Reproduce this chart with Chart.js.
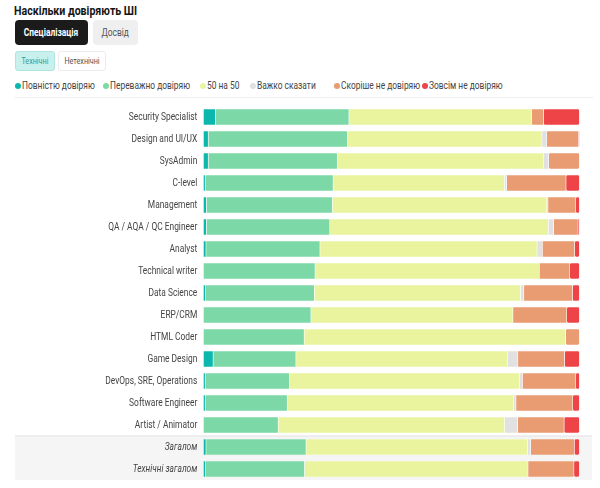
<!DOCTYPE html>
<html>
<head>
<meta charset="utf-8">
<script src="https://cdn.jsdelivr.net/npm/chart.js@4"></script>
<style>
  body { margin: 0; background: #fff; font-family: Roboto, "Noto Sans", sans-serif; color: #222; }
  #wrap { position: relative; width: 600px; height: 488px; overflow: hidden; }
  .nar { display: inline-block; transform: scaleX(0.8); white-space: nowrap; }
  h1 { position: absolute; left: 14px; top: 3px; margin: 0; font-size: 13px; font-weight: 700; color: #151515; }
  h1 .nar { transform: scaleX(0.815); transform-origin: left center; }
  .tab, .sub { position: absolute; text-align: center; box-sizing: border-box; overflow: hidden; }
  .tab .nar, .sub .nar { transform-origin: center center; }
  .tab { top: 20px; height: 25px; line-height: 25px; border-radius: 4px; font-size: 10.5px; }
  .tab.on { left: 15px; width: 73px; background: #1b1b1b; color: #fff; font-weight: 700; }
  .tab.off { left: 93px; width: 45px; background: #efefef; color: #555; }
  .sub { top: 51px; height: 20px; line-height: 18px; border-radius: 3px; font-size: 9px; }
  .sub.on { left: 15px; width: 40px; background: #c8f0ec; border: 1px solid #aee5df; color: #3a9b93; }
  .sub.off { left: 58px; width: 48px; background: #fff; border: 1px solid #ececec; color: #555; }
  .leg { position: absolute; top: 79px; height: 13px; font-size: 10.5px; line-height: 13px; color: #444; white-space: nowrap; }
  .leg i { position: absolute; left: 0; top: 3.5px; width: 6px; height: 6px; border-radius: 50%; }
  .leg .nar { position: absolute; left: 7px; top: 0; transform-origin: left center; }
  #rule { position: absolute; left: 15px; top: 97px; width: 578px; height: 1px; background: #eee; }
  #box { position: absolute; left: 0; top: 100px; width: 600px; height: 388px; }
</style>
</head>
<body>
<div id="wrap">
  <h1><span class="nar">Наскільки довіряють ШІ</span></h1>
  <div class="tab on"><span class="nar">Спеціалізація</span></div>
  <div class="tab off"><span class="nar">Досвід</span></div>
  <div class="sub on"><span class="nar">Технічні</span></div>
  <div class="sub off"><span class="nar">Нетехнічні</span></div>
  <div id="legend"></div>
  <div id="rule"></div>
  <div id="box"><canvas id="grafico"></canvas></div>
</div>
<script>
// Datos (porcentajes)
const categorias = ['Security Specialist', 'Design and UI/UX', 'SysAdmin', 'C-level', 'Management',
  'QA / AQA / QC Engineer', 'Analyst', 'Technical writer', 'Data Science', 'ERP/CRM', 'HTML Coder',
  'Game Design', 'DevOps, SRE, Operations', 'Software Engineer', 'Artist / Animator', 'Загалом', 'Технічні загалом'];

const nombresSeries = ['Повністю довіряю', 'Переважно довіряю', '50 на 50', 'Важко сказати', 'Скоріше не довіряю', 'Зовсім не довіряю'];
const colores = ['#0cb7ae', '#7dd8a8', '#eaf49e', '#e1e1e1', '#e99b71', '#ee4448'];

const povnistyu  = [3.2, 1.3, 1.3, 0.5, 0.8, 0.8, 0.7, 0, 0.6, 0, 0, 2.6, 0.5, 0.5, 0, 0.7, 0.6];
const perevazhno = [35.5, 37.0, 34.3, 34.0, 33.5, 32.8, 30.3, 29.7, 28.9, 28.6, 26.8, 22.0, 22.4, 21.8, 19.9, 26.6, 26.3];
const piftyPifty = [48.6, 51.7, 54.9, 45.5, 57.0, 58.1, 57.7, 59.6, 54.8, 53.7, 69.5, 56.3, 61.2, 60.2, 60.2, 58.9, 59.4];
const vazhko     = [0, 1.3, 1.3, 0.6, 0.3, 1.4, 1.4, 0, 0.9, 0, 0, 2.7, 0.7, 0.6, 3.4, 0.8, 0];
const skorishe   = [3.1, 8.4, 8.2, 15.8, 7.4, 6.5, 8.6, 8.1, 12.9, 14.3, 3.7, 12.4, 14.2, 15.1, 12.4, 11.6, 12.2];
const zovsim     = [9.6, 0.3, 0, 3.6, 1.0, 0.4, 1.3, 2.6, 1.9, 3.4, 0, 4.0, 1.0, 1.8, 4.1, 1.4, 1.5];

const series = [povnistyu, perevazhno, piftyPifty, vazhko, skorishe, zovsim];
const filasResumen = 2; // últimas filas con fondo gris
const estrechar = 0.8;  // el texto original es una fuente condensada

// Leyenda en HTML (posición x de cada punto)
const legendaX = [15, 103, 200, 250, 334, 422];
document.getElementById('legend').innerHTML = nombresSeries
  .map((n, i) => '<div class="leg" style="left:' + legendaX[i] + 'px"><i style="background:' + colores[i] +
    '"></i><span class="nar">' + n + '</span></div>').join('');

// Fondo gris para las filas de resumen + texto condensado de las etiquetas
const fondoResumen = {
  id: 'fondoResumen',
  beforeDraw(chart) {
    const y = chart.scales.y;
    const paso = y.height / categorias.length;
    const top = y.getPixelForValue(categorias.length - filasResumen) - paso / 2;
    const bottom = y.getPixelForValue(categorias.length - 1) + paso / 2;
    const ctx = chart.ctx;
    ctx.save();
    ctx.fillStyle = '#f5f5f5';
    ctx.fillRect(15, top, 577, bottom - top);
    ctx.fillStyle = '#e2e2e2';
    ctx.fillRect(15, top - 0.5, 577, 1);
    ctx.restore();
    // las etiquetas del eje se dibujan justo después: estrecharlas en horizontal
    const ax = y.right - y.options.ticks.padding;
    ctx.save();
    ctx.translate(ax, 0);
    ctx.scale(estrechar, 1);
    ctx.translate(-ax, 0);
  },
  beforeDatasetsDraw(chart) {
    chart.ctx.restore();
  }
};

const ctx = document.getElementById('grafico').getContext('2d');
const chart = new Chart(ctx, {
  type: 'bar',
  data: {
    labels: categorias,
    datasets: series.map((d, i) => ({
      label: nombresSeries[i],
      data: d,
      backgroundColor: colores[i],
      borderColor: '#ffffff',
      borderWidth: 0.6,
      borderRadius: 2,
      borderSkipped: false,
      barThickness: 16
    }))
  },
  options: {
    indexAxis: 'y',
    responsive: true,
    maintainAspectRatio: false,
    animation: false,
    layout: { padding: { top: 6, bottom: 8, left: 0, right: 20.5 } },
    plugins: {
      legend: { display: false },
      tooltip: { enabled: false }
    },
    scales: {
      x: {
        stacked: true, min: 0, max: 100, display: false
      },
      y: {
        stacked: true,
        grid: { display: false, drawTicks: false },
        border: { display: false },
        afterFit(scale) {
          scale.width = 203.3;
          scale.paddingTop = 0;
          scale.paddingBottom = 0;
        },
        ticks: {
          padding: 6,
          color: '#444',
          font: (c) => ({
            family: 'Roboto',
            size: 10.5,
            style: c.index >= categorias.length - filasResumen ? 'italic' : 'normal'
          })
        }
      }
    }
  },
  plugins: [fondoResumen]
});
</script>
</body>
</html>
